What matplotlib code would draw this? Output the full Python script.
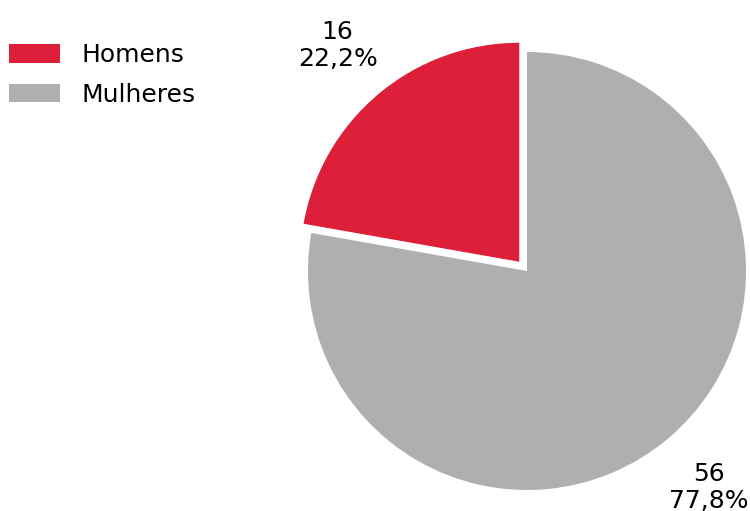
import matplotlib.pyplot as plt

categories = ['Homens', 'Mulheres']
counts = [16, 56]
percents = ['22,2%', '77,8%']
colors = ['#DD1F3A', '#AFAFB1']

fig = plt.figure(figsize=(7.5, 5.11), dpi=100)
ax = fig.add_axes([0, 0, 1, 1])

# pie radius = 219 px, centre at (527, 271) px from top-left
r = 219.0
cx, cy = 527.0, 271.0
W, H = 750.0, 511.0

labels = [f'{c}\n{p}' for c, p in zip(counts, percents)]
wedges, texts = ax.pie(counts, colors=colors, startangle=90, counterclock=True,
                       explode=[0.055, 0], labels=labels, labeldistance=1.29,
                       textprops=dict(fontsize=18, ha='center', va='center',
                                      linespacing=1.15))

ax.set_xlim(-cx / r, (W - cx) / r)
ax.set_ylim(-(H - cy) / r, cy / r)
ax.set_aspect('auto')
ax.axis('off')

leg = fig.legend(wedges, categories, loc='upper left',
                 bbox_to_anchor=(9 / W, 1 - 43 / H), frameon=False,
                 fontsize=18, handlelength=2.05, handleheight=0.76,
                 handletextpad=0.84, labelspacing=0.62,
                 borderpad=0, borderaxespad=0)

fig.savefig('out.png', dpi=100)
